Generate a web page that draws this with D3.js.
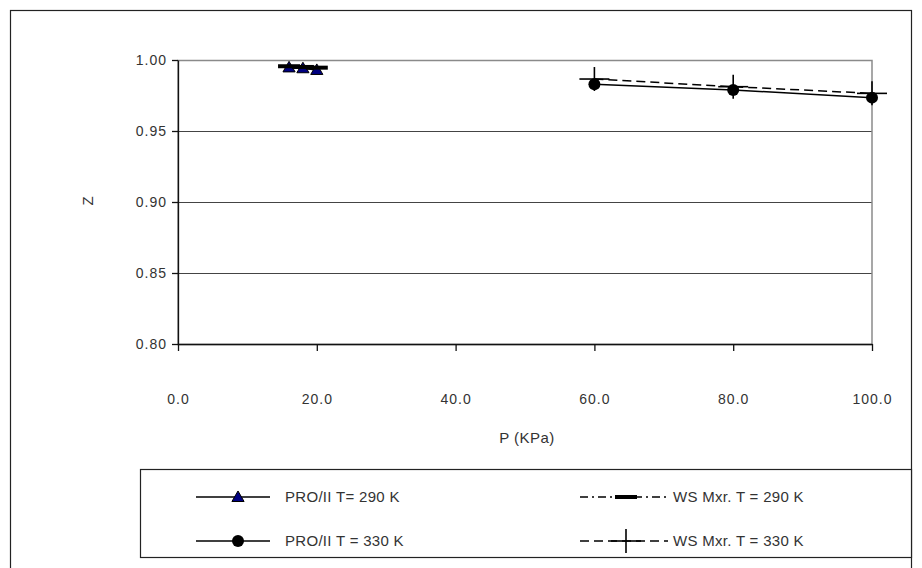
<!DOCTYPE html>
<html>
<head>
<meta charset="utf-8">
<script src="https://cdn.jsdelivr.net/npm/d3@7"></script>
<style>
  body { margin: 0; background: #fff; }
  text { font-family: "Liberation Sans", Arial, sans-serif; fill: #333; }
</style>
</head>
<body>
<div class="chart-container"></div>
<script>
// data
const pressure290 = [16, 18, 20];
const zPro290 = [0.9948, 0.9942, 0.9930];
const zWs290 = [0.9956, 0.9951, 0.9946];
const pressure330 = [60, 80, 100];
const zPro330 = [0.9829, 0.9789, 0.9735];
const zWs330 = [0.9866, 0.9812, 0.9765];

const xTicks = [0, 20, 40, 60, 80, 100];
const yTicks = [0.80, 0.85, 0.90, 0.95, 1.00];
const seriesNames = ['PRO/II T= 290 K', 'WS Mxr. T = 290 K', 'PRO/II T = 330 K', 'WS Mxr. T = 330 K'];

const svg_width = 922;
const svg_height = 568;
const margin = { top: 60, right: 50, bottom: 224, left: 178 };

const svg = d3.select('.chart-container').append('svg')
    .attr('width', svg_width).attr('height', svg_height);

svg.append('rect').attr('width', svg_width).attr('height', svg_height).style('fill', '#fff');
// outer frame
svg.append('rect')
    .attr('x', 10.5).attr('y', 10.5).attr('width', 901).attr('height', 580)
    .style('fill', 'none').style('stroke', '#222').style('stroke-width', 1.2);

const xScale = d3.scaleLinear().domain([0, 100]).range([margin.left, svg_width - margin.right]);
const yScale = d3.scaleLinear().domain([0.80, 1.00]).range([svg_height - margin.bottom, margin.top]);

// grid lines
svg.append('g').selectAll('line').data(yTicks.slice(1)).enter()
    .append('line')
    .attr('x1', xScale(0)).attr('x2', xScale(100))
    .attr('y1', d => Math.round(yScale(d)) + 0.5).attr('y2', d => Math.round(yScale(d)) + 0.5)
    .style('stroke', '#444').style('stroke-width', 1);

// plot border (grey)
svg.append('rect')
    .attr('x', xScale(0)).attr('y', Math.round(yScale(1)) + 0.5)
    .attr('width', xScale(100) - xScale(0)).attr('height', yScale(0.8) - yScale(1))
    .style('fill', 'none').style('stroke', '#8a8a8a').style('stroke-width', 1.5);

const xAxis = d3.axisBottom(xScale)
    .tickValues(xTicks)
    .tickFormat(d3.format('.1f'))
    .tickSizeInner(7)
    .tickSizeOuter(0)
    .tickPadding(43);
const xAxisDraw = svg.append('g')
    .attr('transform', `translate(0,${yScale(0.8)})`)
    .call(xAxis);

const yAxis = d3.axisLeft(yScale)
    .tickValues(yTicks)
    .tickFormat(d3.format('.2f'))
    .tickSizeInner(6)
    .tickSizeOuter(0)
    .tickPadding(5);
const yAxisDraw = svg.append('g')
    .attr('transform', `translate(${xScale(0)},0)`)
    .call(yAxis);

[xAxisDraw, yAxisDraw].forEach(a => {
    a.selectAll('path, line').style('stroke', '#111').style('stroke-width', 1.3);
    a.selectAll('text')
        .style('font-size', '14px').style('letter-spacing', '1px')
        .style('font-family', '"Liberation Sans", Arial, sans-serif').style('fill', '#333');
});

// axis titles
svg.append('text').text('P (KPa)')
    .attr('x', 527).attr('y', 443)
    .style('text-anchor', 'middle').style('font-size', '15px').style('letter-spacing', '0.5px');
svg.append('text').text('Z')
    .attr('transform', 'translate(93,201) rotate(-90)')
    .style('text-anchor', 'middle').style('font-size', '15px');

// markers
function drawMarker(g, type, x, y) {
    if (type === 'triangle') {
        g.append('path')
            .attr('d', d3.symbol(d3.symbolTriangle, 64)())
            .attr('transform', `translate(${x},${y + 1})`)
            .style('fill', '#000080').style('stroke', '#000').style('stroke-width', 1);
    } else if (type === 'circle') {
        g.append('circle').attr('cx', x).attr('cy', y).attr('r', 6)
            .style('fill', '#000');
    } else if (type === 'dash') {
        g.append('rect').attr('x', x - 11).attr('y', y - 2).attr('width', 22).attr('height', 4)
            .style('fill', '#000');
    } else if (type === 'plus') {
        g.append('line').attr('x1', x - 15).attr('x2', x + 15).attr('y1', y).attr('y2', y)
            .style('stroke', '#000').style('stroke-width', 1.6);
        g.append('line').attr('x1', x).attr('x2', x).attr('y1', y - 12).attr('y2', y + 12)
            .style('stroke', '#000').style('stroke-width', 1.6);
    }
}

const series = [
    { name: seriesNames[0], xs: pressure290, ys: zPro290, dash: null, marker: 'triangle' },
    { name: seriesNames[1], xs: pressure290, ys: zWs290, dash: '8,4,2,4', marker: 'dash' },
    { name: seriesNames[2], xs: pressure330, ys: zPro330, dash: null, marker: 'circle' },
    { name: seriesNames[3], xs: pressure330, ys: zWs330, dash: '9,5', marker: 'plus' }
];

const line = d3.line().x(d => xScale(d[0])).y(d => yScale(d[1]));
const plot = svg.append('g');
series.forEach(s => {
    const pts = s.xs.map((x, i) => [x, s.ys[i]]);
    plot.append('path').datum(pts).attr('d', line)
        .style('fill', 'none').style('stroke', '#000').style('stroke-width', 1.5)
        .style('stroke-dasharray', s.dash);
});
// markers drawn after all lines
series.forEach(s => {
    s.xs.forEach((x, i) => drawMarker(plot, s.marker, xScale(x), yScale(s.ys[i])));
});

// legend
const legend = svg.append('g');
legend.append('rect')
    .attr('x', 140.5).attr('y', 469.5).attr('width', 771).attr('height', 88)
    .style('fill', '#fff').style('stroke', '#222').style('stroke-width', 1.2);

const legendPos = [
    { x1: 196, x2: 270, mx: 238, tx: 285, y: 497 },
    { x1: 580, x2: 668, mx: 626, tx: 673, y: 497 },
    { x1: 196, x2: 270, mx: 238, tx: 285, y: 541 },
    { x1: 580, x2: 668, mx: 626, tx: 673, y: 541 }
];
series.forEach((s, i) => {
    const p = legendPos[i];
    legend.append('line')
        .attr('x1', p.x1).attr('x2', p.x2).attr('y1', p.y).attr('y2', p.y)
        .style('stroke', '#000').style('stroke-width', 1.5)
        .style('stroke-dasharray', s.dash);
    drawMarker(legend, s.marker, p.mx, p.y);
    legend.append('text').text(s.name)
        .attr('x', p.tx).attr('y', p.y + 5)
        .style('font-size', '15px').style('letter-spacing', '0.3px');
});
</script>
</body>
</html>
